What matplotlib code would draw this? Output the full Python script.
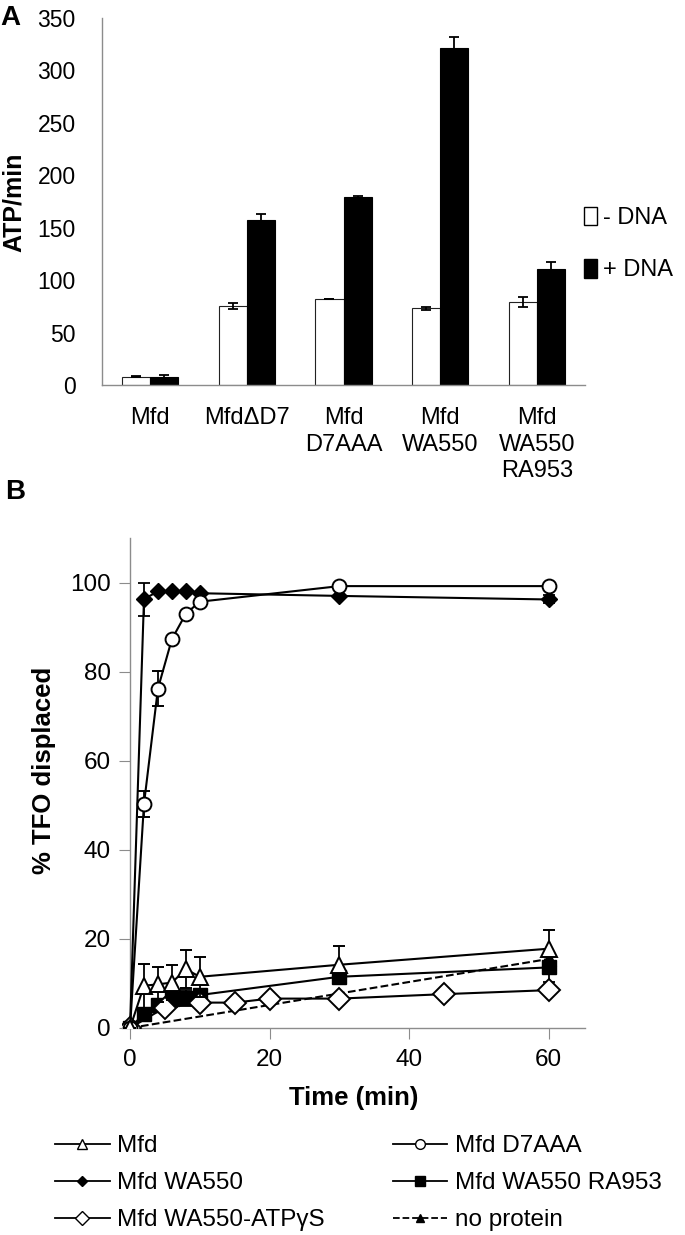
import matplotlib
matplotlib.use('Agg')
import matplotlib.pyplot as plt
from matplotlib.lines import Line2D
from matplotlib.patches import Patch
import numpy as np

plt.rcParams['font.family'] = ['Liberation Sans', 'DejaVu Sans']

# ---------------- dados painel A ----------------
categorias = ['Mfd', 'Mfd\u0394D7', 'Mfd\nD7AAA', 'Mfd\nWA550', 'Mfd\nWA550\nRA953']
sem_dna = [8, 75, 82, 73, 79]
sem_dna_err = [0.5, 2.8, 0.3, 1.0, 4.7]
com_dna = [8, 157, 179, 321, 111]
com_dna_err = [2.0, 5.8, 1.6, 11, 6.4]

# ---------------- dados painel B ----------------
t_mfd = [0, 2, 4, 6, 8, 10, 30, 60]
y_mfd = [0, 9.5, 9.8, 10.2, 13.2, 11.5, 14.2, 17.8]
e_mfd = [0, 4.9, 4.0, 3.9, 4.3, 4.5, 4.2, 4.1]

t_d7 = [0, 2, 4, 6, 8, 10, 30, 60]
y_d7 = [0, 50.3, 76.2, 87.3, 93.0, 95.7, 99.2, 99.2]
e_d7 = [0, 2.9, 4.0, 0.8, 0.5, 0.5, 0.3, 0.3]

t_wa = [0, 2, 4, 6, 8, 10, 30, 60]
y_wa = [0, 96.3, 98.0, 98.0, 98.0, 97.6, 97.0, 96.2]
e_wa = [0, 3.7, 0.3, 0.3, 0.3, 0.3, 0.3, 0.9]

t_ra = [0, 2, 4, 6, 8, 10, 30, 60]
y_ra = [0, 3.2, 5.2, 6.4, 6.8, 7.4, 11.5, 13.6]
e_ra = [0, 1.0, 1.2, 1.6, 1.8, 1.2, 1.0, 3.2]

t_atp = [0, 5, 10, 15, 20, 30, 45, 60]
y_atp = [0, 4.6, 5.7, 5.7, 6.6, 6.6, 7.6, 8.5]
e_atp = [0, 0.5, 0.5, 0.3, 0.3, 0.5, 0.3, 1.0]

t_np = [0, 60]
y_np = [0, 15.5]

W, H = 685, 1235
fig = plt.figure(figsize=(W/100, H/100), dpi=100)
bold = dict(fontweight='bold')

# ------------------- PAINEL A -------------------
axA = fig.add_axes([102/W, 1-385/H, (585-102)/W, (385-18)/H])
x = np.arange(len(categorias))
w = 0.29
ekA = dict(ecolor='black', capsize=3.5, elinewidth=1.3, capthick=1.3)
axA.bar(x - w/2, sem_dna, w, color='white', edgecolor='#222222', linewidth=0.8,
        yerr=sem_dna_err, error_kw=ekA)
axA.bar(x + w/2, com_dna, w, color='black', edgecolor='black', linewidth=0.8,
        yerr=com_dna_err, error_kw=ekA)
axA.set_xlim(-0.5, len(categorias) - 0.5)
axA.set_ylim(0, 350)
axA.set_yticks(range(0, 351, 50))
axA.set_xticks(x)
axA.set_xticklabels(categorias, fontsize=17, va='top', linespacing=1.27)
axA.tick_params(axis='y', labelsize=16.5, length=0, pad=19)
axA.tick_params(axis='x', length=0, pad=16)
axA.spines['top'].set_visible(False)
axA.spines['right'].set_visible(False)
for s in ['left', 'bottom']:
    axA.spines[s].set_color('#8c8c8c')
    axA.spines[s].set_linewidth(1)
axA.set_ylabel('ATP/min', fontsize=18, **bold)
axA.yaxis.set_label_coords((26-102)/483, (385-202)/367)

leg_a = [Patch(facecolor='white', edgecolor='black', label='- DNA'),
         Patch(facecolor='black', edgecolor='black', label='+ DNA')]
fig.legend(handles=leg_a, loc='center left', bbox_to_anchor=(584/W, 1-244/H), frameon=False,
           fontsize=17, handlelength=0.55, handleheight=0.85, handletextpad=0.25, labelspacing=1.25,
           borderpad=0, borderaxespad=0)

fig.text(0/W, 1-18/H, 'A', fontsize=20, va='center', **bold)

# ------------------- PAINEL B -------------------
y0 = 1028
yt = 538
axB = fig.add_axes([122/W, 1-y0/H, (585-122)/W, (y0-yt)/H])
ek = dict(capsize=4, elinewidth=1.3, capthick=1.3, ecolor='black')
lw = 1.5
axB.plot(t_np, y_np, '--', color='black', lw=lw, marker='^', ms=10, mfc='black', mec='black', zorder=3)
axB.errorbar(t_atp, y_atp, yerr=e_atp, color='black', lw=lw, marker='D', ms=11, mfc='white', mec='black', mew=1.4, zorder=4, **ek)
axB.errorbar(t_ra, y_ra, yerr=e_ra, color='black', lw=lw, marker='s', ms=10, mfc='black', mec='black', zorder=3, **ek)
axB.errorbar(t_mfd, y_mfd, yerr=e_mfd, color='black', lw=lw, marker='^', ms=11, mfc='white', mec='black', mew=1.4, zorder=5, **ek)
axB.errorbar(t_wa, y_wa, yerr=e_wa, color='black', lw=lw, marker='D', ms=8, mfc='black', mec='black', zorder=3, **ek)
axB.errorbar(t_d7, y_d7, yerr=e_d7, color='black', lw=lw, marker='o', ms=10, mfc='white', mec='black', mew=1.4, zorder=4, **ek)

axB.set_xlim(-1.15, 65.2)
axB.set_ylim(0, 110)
axB.set_xticks([0, 20, 40, 60])
axB.set_yticks(range(0, 101, 20))
axB.spines['left'].set_position(('data', 0))
axB.spines['top'].set_visible(False)
axB.spines['right'].set_visible(False)
for s in ['left', 'bottom']:
    axB.spines[s].set_color('#8c8c8c')
    axB.spines[s].set_linewidth(1)
axB.tick_params(axis='y', labelsize=17.5, direction='out', length=8, color='#8c8c8c', pad=6)
axB.tick_params(axis='x', labelsize=17.5, direction='out', length=8, color='#8c8c8c', pad=7)
axB.set_xlabel('Time (min)', fontsize=18.5, labelpad=11, **bold)
axB.set_ylabel('% TFO displaced', fontsize=18.5, **bold)
axB.yaxis.set_label_coords((56-122)/463, 0.5 + 13/490)

fig.text(5/W, 1-492/H, 'B', fontsize=20, va='center', **bold)

def h(marker, mfc, ls='-', ms=7):
    return Line2D([], [], color='black', lw=1.3, ls=ls, marker=marker, ms=ms, mfc=mfc, mec='black')

handles = [h('^', 'white'), h('D', 'black', ms=5), h('D', 'white'),
           h('o', 'white'), h('s', 'black'), h('^', 'black', ls='--', ms=6)]
labels = ['Mfd', 'Mfd WA550', 'Mfd WA550-ATP\u03b3S',
          'Mfd D7AAA', 'Mfd WA550 RA953', 'no protein']
fig.legend(handles, labels, ncol=2, loc='upper left', bbox_to_anchor=(55/W, 1-1135/H), frameon=False,
           fontsize=17.5, handlelength=2.25, handletextpad=0.3, columnspacing=2.8, labelspacing=0.62,
           borderpad=0, borderaxespad=0)

fig.savefig('out.png', dpi=100)
